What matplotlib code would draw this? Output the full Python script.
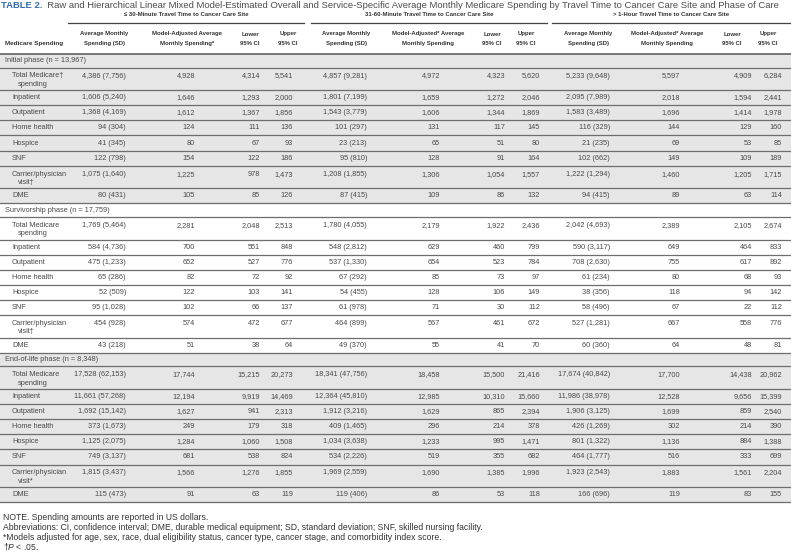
import matplotlib
matplotlib.use('Agg')
import matplotlib.pyplot as plt
from matplotlib import font_manager

# ---- table content ----
title_tag = 'TABLE 2.'
title_text = ('Raw and Hierarchical Linear Mixed Model-Estimated Overall and Service-Specific '
              'Average Monthly Medicare Spending by Travel Time to Cancer Care Site and Phase of Care')

group_titles = ['\u2264 30-Minute Travel Time to Cancer Care Site',
                '31-60-Minute Travel Time to Cancer Care Site',
                '> 1-Hour Travel Time to Cancer Care Site']
col_heads_g1 = [('Average Monthly', 'Spending (SD)'), ('Model-Adjusted Average', 'Monthly Spending*'),
                ('Lower', '95% CI'), ('Upper', '95% CI')]
col_heads_g23 = [('Average Monthly', 'Spending (SD)'), ('Model-Adjusted* Average', 'Monthly Spending'),
                 ('Lower', '95% CI'), ('Upper', '95% CI')]

phase_labels = ['Initial phase (n = 13,967)', 'Survivorship phase (n = 17,759)',
                'End-of-life phase (n = 8,348)']
item_labels = ['Total Medicare', 'Inpatient', 'Outpatient', 'Home health', 'Hospice', 'SNF',
               'Carrier/physician', 'DME']
item_second = ['spending', None, None, None, None, None, 'visit', None]
# footnote marks for (Total, Carrier) per phase
total_marks = ['\u2020', '', '']
carrier_marks = ['\u2020', '\u2020', '*']

# each row: for each travel group -> avg, sd, adjusted, lower, upper
initial_phase = [
    [4386, 7756, 4928, 4314, 5541, 4857, 9281, 4972, 4323, 5620, 5233, 9648, 5597, 4909, 6284],
    [1606, 5240, 1646, 1293, 2000, 1801, 7199, 1659, 1272, 2046, 2095, 7989, 2018, 1594, 2441],
    [1368, 4169, 1612, 1367, 1856, 1543, 3779, 1606, 1344, 1869, 1583, 3489, 1696, 1414, 1978],
    [94, 304, 124, 111, 136, 101, 297, 131, 117, 145, 116, 329, 144, 129, 160],
    [41, 345, 80, 67, 93, 23, 213, 65, 51, 80, 21, 235, 69, 53, 85],
    [122, 798, 154, 122, 186, 95, 810, 128, 91, 164, 102, 662, 149, 109, 189],
    [1075, 1640, 1225, 978, 1473, 1208, 1855, 1306, 1054, 1557, 1222, 1294, 1460, 1205, 1715],
    [80, 431, 105, 85, 126, 87, 415, 109, 86, 132, 94, 415, 89, 63, 114],
]
survivorship_phase = [
    [1769, 5464, 2281, 2048, 2513, 1780, 4055, 2179, 1922, 2436, 2042, 4693, 2389, 2105, 2674],
    [584, 4736, 700, 551, 848, 548, 2812, 629, 460, 799, 590, 3117, 649, 464, 833],
    [475, 1233, 652, 527, 776, 537, 1330, 654, 523, 784, 708, 2630, 755, 617, 892],
    [65, 286, 82, 72, 92, 67, 292, 85, 73, 97, 61, 234, 80, 68, 93],
    [52, 509, 122, 103, 141, 54, 455, 128, 106, 149, 38, 356, 118, 94, 142],
    [95, 1028, 102, 66, 137, 61, 978, 71, 30, 112, 58, 496, 67, 22, 112],
    [454, 928, 574, 472, 677, 464, 899, 567, 461, 672, 527, 1281, 667, 558, 776],
    [43, 218, 51, 38, 64, 49, 370, 55, 41, 70, 60, 360, 64, 48, 81],
]
end_of_life_phase = [
    [17528, 62153, 17744, 15215, 20273, 18341, 47756, 18458, 15500, 21416, 17674, 40842, 17700, 14438, 20962],
    [11661, 57268, 12194, 9919, 14469, 12364, 45810, 12985, 10310, 15660, 11986, 38978, 12528, 9656, 15399],
    [1692, 15142, 1627, 941, 2313, 1912, 3216, 1629, 865, 2394, 1906, 3125, 1699, 859, 2540],
    [373, 1673, 249, 179, 318, 409, 1465, 296, 214, 378, 426, 1269, 302, 214, 390],
    [1125, 2075, 1284, 1060, 1508, 1034, 3638, 1233, 995, 1471, 801, 1322, 1136, 884, 1388],
    [749, 3137, 681, 538, 824, 534, 2226, 519, 355, 682, 464, 1777, 516, 333, 699],
    [1815, 3437, 1566, 1276, 1855, 1969, 2559, 1690, 1385, 1996, 1923, 2543, 1883, 1561, 2204],
    [115, 473, 91, 63, 119, 119, 406, 86, 53, 118, 166, 696, 119, 83, 155],
]
phases = [initial_phase, survivorship_phase, end_of_life_phase]

footnotes = ['NOTE. Spending amounts are reported in US dollars.',
             'Abbreviations: CI, confidence interval; DME, durable medical equipment; SD, standard deviation; '
             'SNF, skilled nursing facility.',
             '*Models adjusted for age, sex, race, dual eligibility status, cancer type, cancer stage, and '
             'comorbidity index score.',
             '\u2020$\\it{P}$ < .05.']

# ---- fonts ----
installed = {f.name for f in font_manager.fontManager.ttflist}
body_font = ['Liberation Sans', 'DejaVu Sans']
if 'Liberation Sans Narrow' in installed:
    head_font = ['Liberation Sans Narrow', 'DejaVu Sans']
    head_size = 5.0
else:
    head_font = ['Liberation Sans', 'DejaVu Sans']
    head_size = 4.3
plt.rcParams['font.family'] = body_font
plt.rcParams['mathtext.fontset'] = 'custom'
plt.rcParams['mathtext.rm'] = 'Liberation Sans'
plt.rcParams['mathtext.it'] = 'Liberation Sans:italic'

W, H = 791, 560
fig = plt.figure(figsize=(W / 100, H / 100), dpi=100)
ax = fig.add_axes([0, 0, 1, 1])
ax.set_xlim(0, W)
ax.set_ylim(H, 0)
ax.axis('off')
renderer = fig.canvas.get_renderer()

txt_col = '#4a4a4a'
line_col = '#6e6e6e'
band_col = '#e6e6e6'
body_size = 5.3


def fmt(v):
    return '{:,}'.format(v)


# ---- title ----
t1 = ax.text(1, 6, title_tag, fontsize=6.2, fontweight='bold', color='#2f6cb3', va='center', ha='left')
t2 = ax.annotate('  ' + title_text, xy=(1, 0.5), xycoords=t1, va='center', ha='left',
                 fontsize=6.2, color='#4d4d4d')
wtot = t1.get_window_extent(renderer).width + t2.get_window_extent(renderer).width
sc = 788.0 / wtot
t1.set_fontsize(6.2 * sc)
t2.set_fontsize(6.2 * sc)

# ---- column geometry ----
val_right = [126, 195, 260, 293, 367, 440, 505, 540, 610, 680, 752, 782]
head_center = [104, 187, 250, 288, 346, 428, 492, 526, 588, 667, 732, 768]
group_span = [(68, 304), (311, 547), (552, 791)]

for g, (x0, x1) in enumerate(group_span):
    ax.text((x0 + x1) / 2, 15, group_titles[g], fontsize=head_size, fontweight='bold',
            family=head_font, color='#333333', ha='center', va='center')
    ax.plot([x0, x1], [23, 23], color='#444444', lw=0.9)
    heads = col_heads_g1 if g == 0 else col_heads_g23
    for c, (l1, l2) in enumerate(heads):
        xc = head_center[g * 4 + c]
        ax.text(xc, 34, l1, fontsize=head_size, fontweight='bold', family=head_font,
                color='#333333', ha='center', va='center')
        ax.text(xc, 43.5, l2, fontsize=head_size, fontweight='bold', family=head_font,
                color='#333333', ha='center', va='center')
ax.text(5, 43.5, 'Medicare Spending', fontsize=head_size + 0.3, fontweight='bold', family=head_font,
        color='#333333', ha='left', va='center')

# ---- body ----
row_h, phase_h, dbl_h = 15.1, 13.6, 22.6
y = 54.0
ax.plot([0, W], [y, y], color='#555555', lw=1.1)
for p, rows in enumerate(phases):
    y_start = y
    ax.text(5, y + phase_h / 2, phase_labels[p], fontsize=body_size, color=txt_col, va='center')
    y += phase_h
    ax.plot([0, W], [y, y], color=line_col, lw=0.9)
    for r, vals in enumerate(rows):
        second = item_second[r]
        label = item_labels[r]
        if second is None:
            h = row_h
            yc = y + h / 2
            ax.text(12, yc, label, fontsize=body_size, color=txt_col, va='center')
        else:
            h = dbl_h
            yc = y + 8.4
            mark = total_marks[p] if r == 0 else carrier_marks[p]
            if r == 0:
                ax.text(12, yc, label + mark, fontsize=body_size, color=txt_col, va='center')
                ax.text(18, y + 16.6, second, fontsize=body_size, color=txt_col, va='center')
            else:
                ax.text(12, yc, label, fontsize=body_size, color=txt_col, va='center')
                ax.text(18, y + 16.6, second + mark, fontsize=body_size, color=txt_col, va='center')
        for g in range(3):
            avg, sd, adj, lo, hi = vals[g * 5:g * 5 + 5]
            cells = ['{} ({})'.format(fmt(avg), fmt(sd)), fmt(adj), fmt(lo), fmt(hi)]
            for c, s in enumerate(cells):
                ax.text(val_right[g * 4 + c], yc, s, fontsize=body_size, color=txt_col,
                        ha='right', va='center')
        y += h
        ax.plot([0, W], [y, y], color=line_col, lw=0.9)
    if p != 1:
        ax.axhspan(y_start, y, color=band_col, zorder=0)

# ---- footnotes ----
fn_y = [517.5, 527.5, 537.5, 547]
fts = []
for i, s in enumerate(footnotes):
    fts.append(ax.text(3, fn_y[i], s, fontsize=6, color='#333333', va='center', ha='left'))
fsc = 484.0 / fts[1].get_window_extent(renderer).width
for t in fts:
    t.set_fontsize(6 * fsc)

fig.savefig('out.png', dpi=100)
